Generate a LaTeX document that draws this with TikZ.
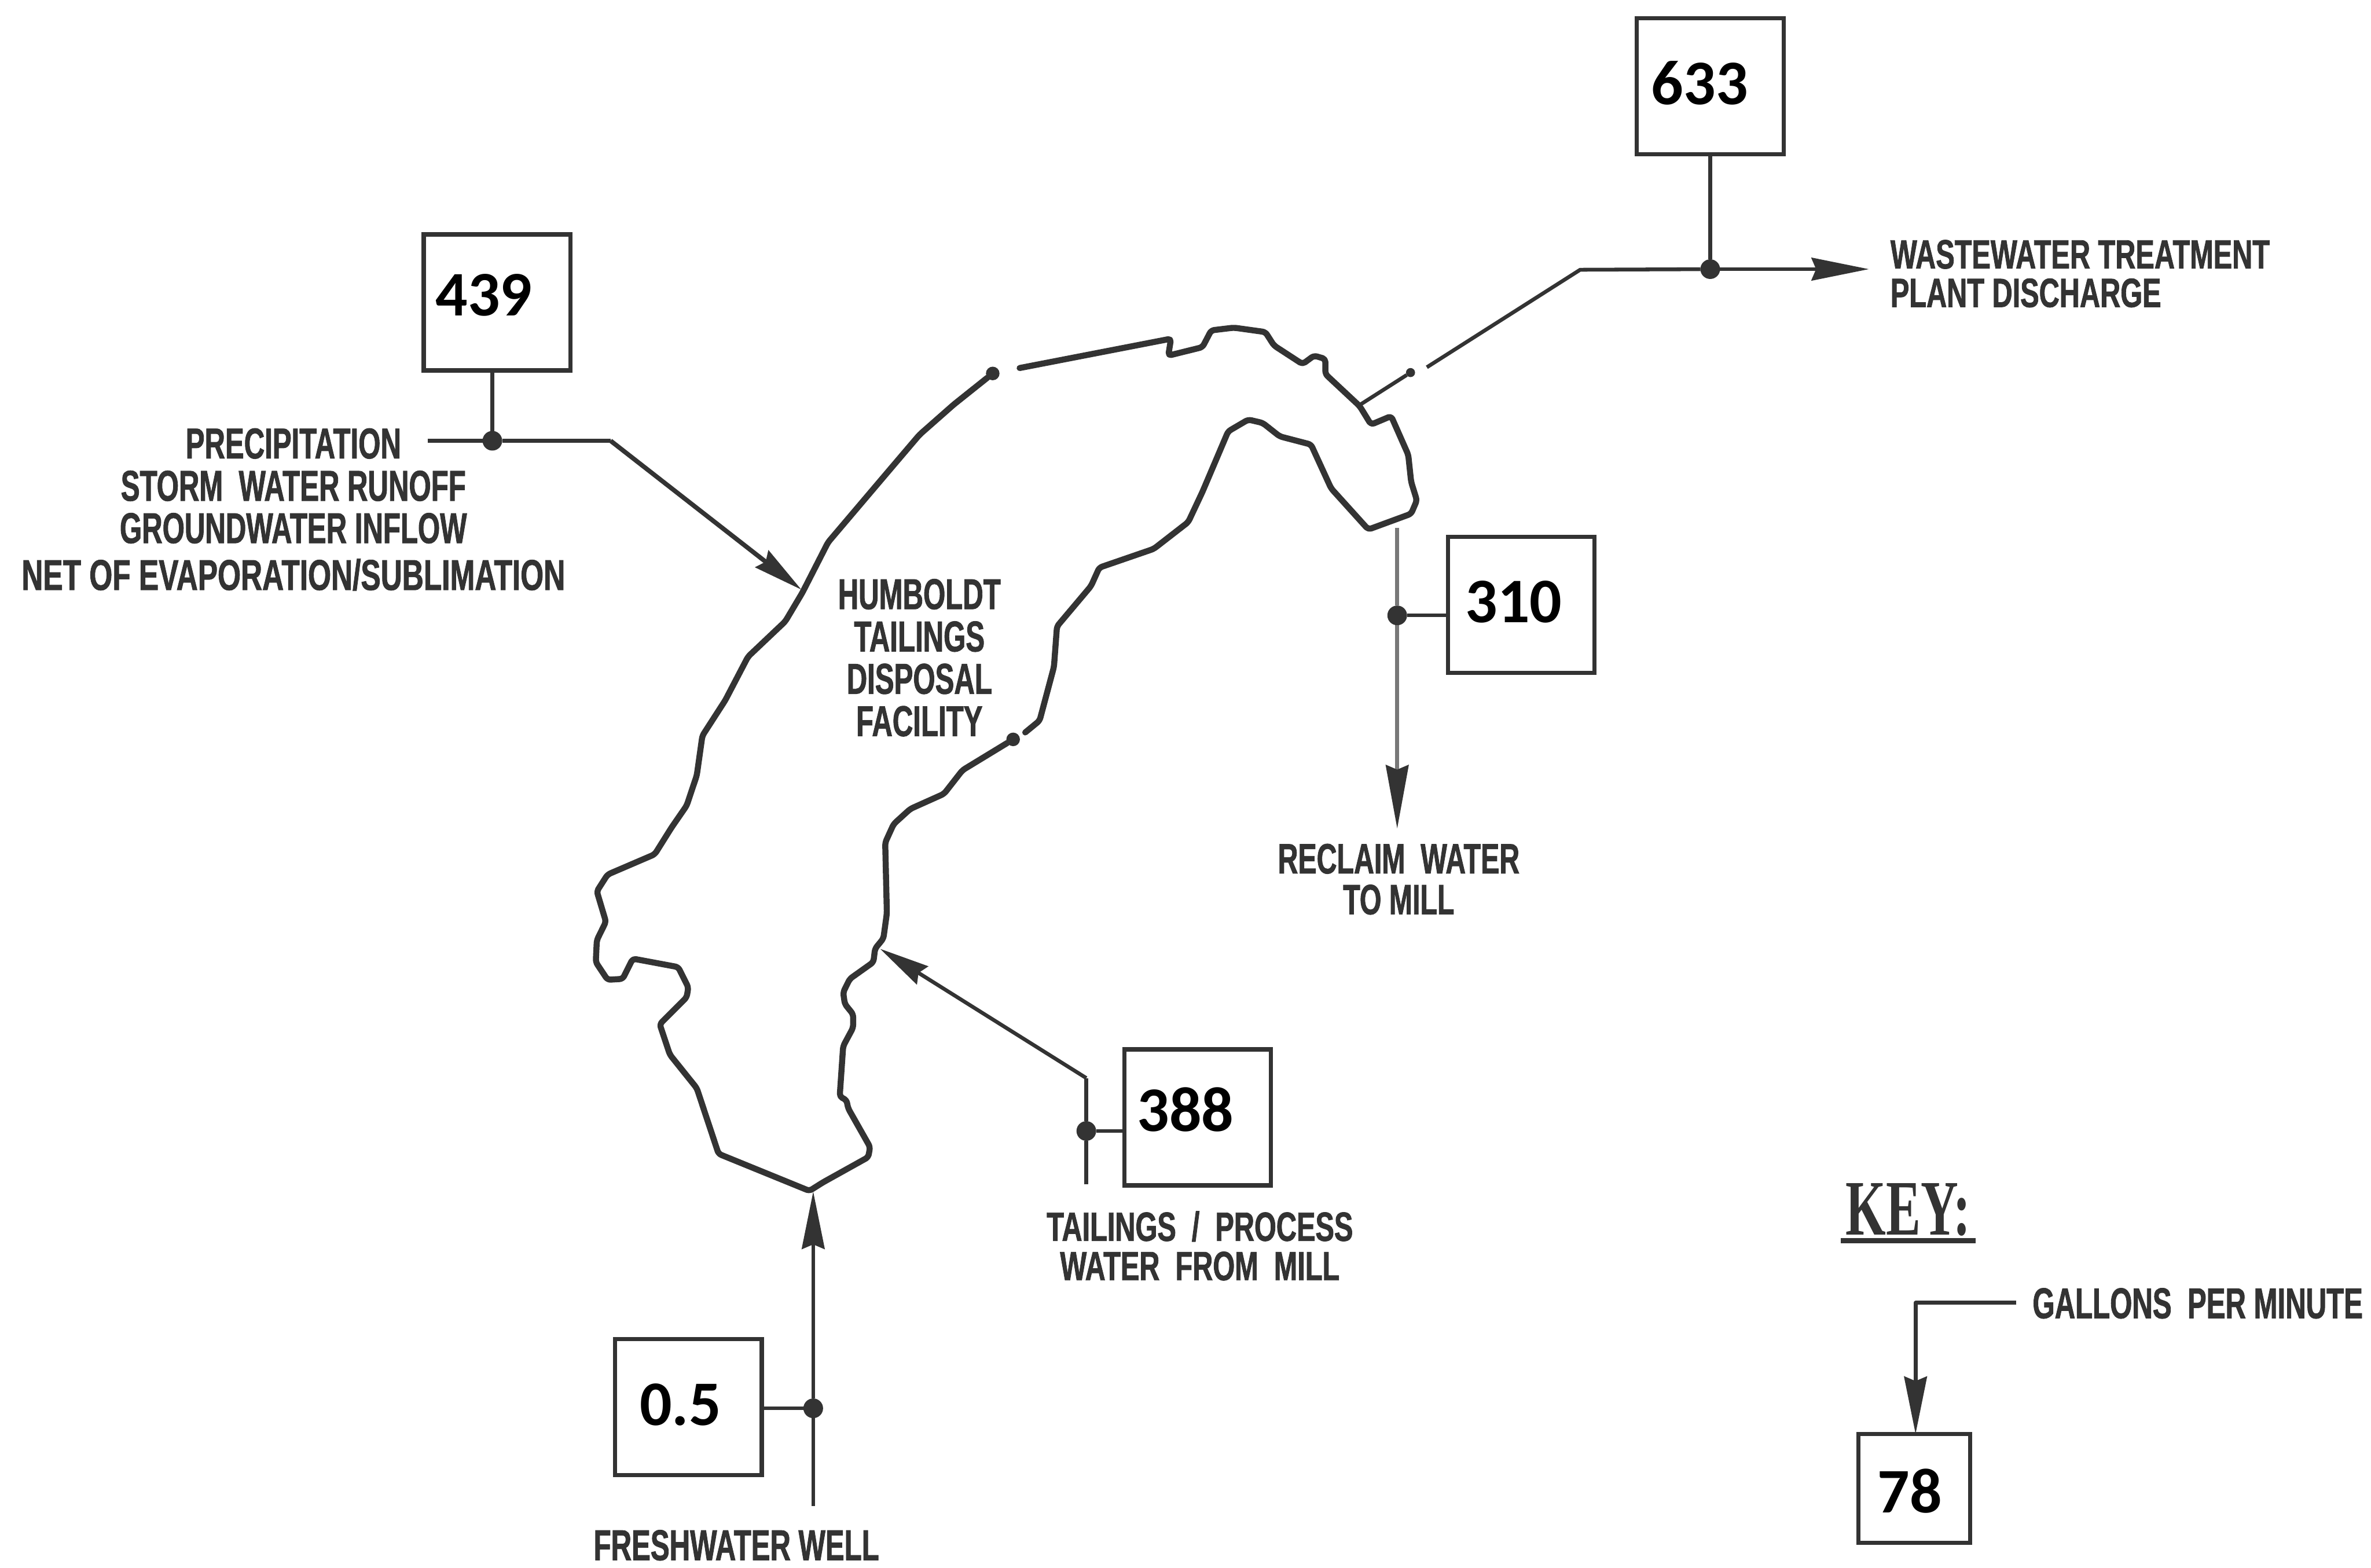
\documentclass[tikz,border=0pt]{standalone}
\usepackage{fontspec}
\usepackage{xcolor}
\usetikzlibrary{arrows.meta}
\setmainfont{Carlito}
\newfontfamily\lblfont[FakeStretch=0.66,BoldFeatures={FakeBold=1.2}]{Liberation Sans}
\newfontfamily\lblwidefont[FakeStretch=0.69,BoldFeatures={FakeBold=1.2}]{Liberation Sans}
\newfontfamily\keyfont[FakeStretch=0.66]{Liberation Serif}
\definecolor{inkdark}{RGB}{51,51,51}
\definecolor{inkgrey}{RGB}{120,120,120}
\tikzset{
  numbox/.style={draw=inkdark, line width=2.8pt, fill=white, inner sep=0pt, outer sep=0pt, minimum width=97pt, minimum height=90pt},
  numtext/.style={inner sep=0pt, font=\fontsize{42}{42}\selectfont\bfseries},
  lbl/.style={inner sep=0pt, text=inkdark, align=center, font=\lblfont\fontsize{28.5}{28}\selectfont\bfseries},
  junction/.style={circle, fill=inkdark, inner sep=0pt, outer sep=0pt, minimum size=13pt},
  gapdot/.style={circle, fill=inkdark, inner sep=0pt, outer sep=0pt, minimum size=9pt},
  pipe/.style={inkdark, line width=2.5pt, line join=round},
  arrow/.style={pipe, -{Stealth[length=38pt, width=15pt, inset=3pt]}},
  shortarrow/.style={pipe, -{Stealth[length=33pt, width=14pt, inset=3pt]}},
  shore/.style={inkdark, line width=4pt, line join=round, line cap=round, rounded corners=2pt}
}
\begin{document}
\begin{tikzpicture}[x=1pt, y=-1pt]
  \useasboundingbox (0,0) rectangle (1568,1037);

  % tailings facility outline
  \node[gapdot] (gapnw) at (656.5,247) {};
  \node[gapdot] (gapse) at (670,489) {};
  \draw[shore] (gapnw) -- (630.8,267.5) -- (608.1,287.5) -- (589.2,309.7) -- (547.6,358.7) -- (530.6,392) -- (519.3,411)
    -- (494.7,434.3) -- (479.6,463.2) -- (464.5,486.6) -- (460.8,512.8) -- (454.1,532.8) -- (444.1,547.3) -- (433,565)
    -- (401.8,578.4) -- (394.7,589.5) -- (400.7,609.6) -- (394.7,621.8) -- (394,636.3) -- (401.8,648) -- (411.8,647.4)
    -- (418.5,634) -- (448.5,639.6) -- (455.2,653) -- (454.1,659.6) -- (436.3,677.4) -- (443,697.5) -- (460.8,719.7)
    -- (475.2,763.1) -- (535.3,787.6) -- (544.2,782) -- (574.2,765.3) -- (575.4,758.6) -- (560.9,733) -- (559.8,727.5)
    -- (555.3,725.3) -- (557.6,691.9) -- (564.2,679.6) -- (564.2,670.8) -- (558.7,664) -- (557.6,656.3) -- (562,647.4)
    -- (577.6,636.3) -- (578.7,627.4) -- (584.2,620.7) -- (586.5,604) -- (585.4,557.3) -- (591,545) -- (602,535)
    -- (624.3,525) -- (636.5,509.4) -- (gapse);
  \draw[shore] (678,484.4) -- (687.5,476.6) -- (697,441) -- (699,414.3) -- (721.5,387.6) -- (727,375.4) -- (763,363)
    -- (785.8,345.3) -- (795.2,325.3) -- (812.2,285.3) -- (825.5,277.5) -- (835,279.7) -- (846.3,288.6) -- (867,294)
    -- (880.3,323) -- (904.9,350.2) -- (933.2,339.8) -- (937,330.9) -- (933.2,318.6) -- (931.3,300.8) -- (920,275.2)
    -- (906.7,280.8) -- (899.2,268.6) -- (876.5,247.4) -- (876.5,237.4) -- (869,235.2) -- (861.4,240.8) -- (842.5,228.5)
    -- (836.8,219.6) -- (816,216.7) -- (801,218.5) -- (795.2,229.6) -- (772.6,235.2) -- (774.4,224) -- (674.3,243.4);
  \node[lbl] (facility) at (608,435) {HUMBOLDT\\TAILINGS\\DISPOSAL\\FACILITY};

  % value boxes
  \node[numbox] (box633) at (1131,57) {};
  \node[numbox] (box439) at (328.7,200) {};
  \node[numbox] (box310) at (1006,400) {};
  \node[numbox] (box388) at (792,739) {};
  \node[numbox] (box05) at (455.3,930.5) {};
  \node[numbox, minimum width=74pt, minimum height=72pt] (box78) at (1266,984.4) {};
  \node[numtext] (num633) at (1124,55) {633};
  \node[numtext] (num439) at (320,195) {439};
  \node[numtext] (num310) at (1001,398) {310};
  \node[numtext] (num388) at (784,734) {388};
  \node[numtext] (num05) at (450,929) {0.5};
  \node[numtext] (num78) at (1263,986) {78};

  % junctions on the flow lines
  \node[junction] (dot633) at (1131,178) {};
  \node[junction] (dot439) at (325.6,291.5) {};
  \node[junction] (dot310) at (924,407) {};
  \node[junction] (dot388) at (718.4,748) {};
  \node[junction] (dot05) at (537.8,931.4) {};
  \node[gapdot, minimum size=6pt] (gapne) at (932.8,246.4) {};

  % free ends and bends
  \coordinate (shorene) at (898,268.6);
  \coordinate (wwstart) at (943.6,242.9);
  \coordinate (wwbend) at (1045,178.4);
  \coordinate (wwend) at (1236,178);
  \coordinate (precipstart) at (282.8,291.5);
  \coordinate (precipbend) at (403.8,291.5);
  \coordinate (precipend) at (530,390);
  \coordinate (reclaimstart) at (924,349);
  \coordinate (reclaimend) at (924,548);
  \coordinate (tailstart) at (718.4,783.4);
  \coordinate (tailbend) at (718.4,713);
  \coordinate (tailend) at (582,627.5);
  \coordinate (wellstart) at (537.8,996);
  \coordinate (wellend) at (537.8,788);
  \coordinate (keystart) at (1333.5,861.6);
  \coordinate (keybend) at (1266.8,861.6);

  % flow lines
  \draw[pipe] (shorene) -- (gapne);
  \draw[pipe] (wwstart) -- (wwbend) -- (dot633);
  \draw[arrow] (dot633) -- (wwend);
  \draw[pipe] (box633.south) -- (dot633);
  \draw[pipe, line width=3pt] (precipstart) -- (dot439);
  \draw[pipe, line width=3pt] (dot439) -- (precipbend);
  \draw[shortarrow, line width=3pt] (precipbend) -- (precipend);
  \draw[pipe] (dot439 |- box439.south) -- (dot439);
  \draw[pipe, inkgrey] (reclaimstart) -- (dot310);
  \draw[pipe, inkgrey, -{Stealth[length=42pt, width=15pt, inset=3pt, color=inkdark]}] (dot310) -- (reclaimend);
  \draw[pipe] (dot310) -- (dot310 -| box310.west);
  \draw[pipe] (tailstart) -- (dot388);
  \draw[pipe] (dot388) -- (tailbend);
  \draw[shortarrow] (tailbend) -- (tailend);
  \draw[pipe] (dot388) -- (dot388 -| box388.west);
  \draw[pipe] (wellstart) -- (dot05);
  \draw[arrow] (dot05) -- (wellend);
  \draw[pipe] (dot05) -- (dot05 -| box05.east);
  \draw[arrow] (keystart) -- (keybend) -- (keybend |- box78.north);

  % labels
  \node[lbl] (precip) at (194,337) {PRECIPITATION\\STORM\ \ WATER RUNOFF\\GROUNDWATER INFLOW\\[3pt]{\lblwidefont NET OF EVAPORATION/SUBLIMATION}};
  \node[lbl, anchor=west, align=left, font=\lblwidefont\fontsize{27}{25.5}\selectfont\bfseries] (wwlabel) at (1250,181) {WASTEWATER TREATMENT\\PLANT DISCHARGE};
  \node[lbl, font=\lblfont\fontsize{28}{27}\selectfont\bfseries] (reclaim) at (925,581.5) {RECLAIM\ \ WATER\\TO MILL};
  \node[lbl, font=\lblwidefont\fontsize{27}{26}\selectfont\bfseries] (tailings) at (793.5,824) {TAILINGS\ \ /\ \ PROCESS\\WATER\ \ FROM\ \ MILL};
  \node[lbl] (well) at (487,1022) {FRESHWATER WELL};
  \node[lbl, anchor=west] (gallons) at (1344,862) {GALLONS\ \ PER MINUTE};
  \node[inner ysep=3pt, inner xsep=3pt, text=inkdark, font=\keyfont\fontsize{52}{52}\selectfont\bfseries] (keylabel) at (1262,800) {KEY:};
  \draw[inkdark, line width=3.5pt] (keylabel.south west) -- (keylabel.south east);
\end{tikzpicture}
\end{document}
